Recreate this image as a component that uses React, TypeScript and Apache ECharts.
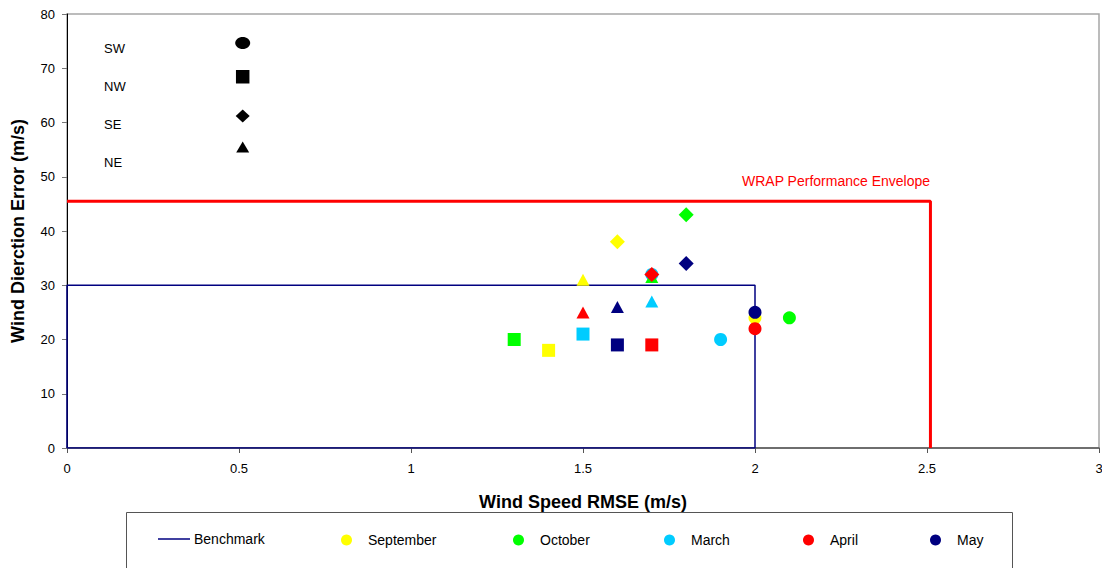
import React, { useEffect, useRef } from "react";
import * as echarts from "echarts";

// ---- data ----
const monthNames = ["September", "October", "March", "April", "May"];
const monthColors = ["#FFFF00", "#00FF00", "#00CCFF", "#FF0000", "#000080"];
// [windSpeedRMSE, windDirError, direction]
const september: [number, number, string][] = [
  [2.0, 24, "SW"], [1.4, 18, "NW"], [1.6, 38, "SE"], [1.5, 31, "NE"],
];
const october: [number, number, string][] = [
  [2.1, 24, "SW"], [1.3, 20, "NW"], [1.8, 43, "SE"], [1.7, 31.5, "NE"],
];
const march: [number, number, string][] = [
  [1.9, 20, "SW"], [1.7, 32, "SW"], [1.5, 21, "NW"], [1.7, 27, "NE"],
];
const april: [number, number, string][] = [
  [2.0, 22, "SW"], [1.7, 19, "NW"], [1.7, 32, "SE"], [1.5, 25, "NE"],
];
const may: [number, number, string][] = [
  [2.0, 25, "SW"], [1.6, 19, "NW"], [1.8, 34, "SE"], [1.6, 26, "NE"],
];
const benchmark = [[0, 0], [0, 30], [2, 30], [2, 0], [0, 0]];
const envelope = [[0, 45.5], [2.51, 45.5], [2.51, 0]];
const directions = ["SW", "NW", "SE", "NE"];
const dirSymbol: Record<string, string> = {
  SW: "circle", NW: "rect", SE: "diamond", NE: "triangle",
};

const FONT = "'Liberation Sans', Arial, sans-serif";

export default function App() {
  const ref = useRef<HTMLDivElement>(null);
  useEffect(() => {
    const chart = echarts.init(ref.current!, null, { renderer: "svg" });
    const monthData = [september, october, march, april, may];
    const order = [0, 2, 1, 3, 4]; // draw order: Sep, Mar, Oct, Apr, May
    const scatterSeries = order.map((i) => ({
      name: monthNames[i],
      type: "scatter",
      itemStyle: { color: monthColors[i], opacity: 1 },
      z: 3,
      data: monthData[i].map((d) => ({
        value: [d[0], d[1]],
        symbol: dirSymbol[d[2]],
        symbolSize: d[2] === "SE" ? [15, 15] : d[2] === "NE" ? [13, 12] : 13,
      })),
    }));

    const legendLefts = [158, 341, 513, 664, 803, 930];
    const legendNames = ["Benchmark", ...monthNames];
    const legends = legendNames.map((n, i) => ({
      data: [i === 0 ? { name: n, icon: "rect" } : n],
      left: legendLefts[i],
      top: i === 0 ? 532 : 533,
      padding: 0,
      itemWidth: i === 0 ? 32 : 11,
      itemHeight: i === 0 ? 1.5 : 12,
      icon: i === 0 ? "rect" : "circle",
      itemStyle: { borderWidth: 0 },
      textStyle: {
        fontFamily: FONT,
        fontSize: 14,
        color: "#000",
        padding: i === 0 ? [0, 0, 0, -1] : [0, 0, 0, 11],
      },
      selectedMode: false,
    }));

    const legendLeftX = 104;
    const symX = 242.7;
    const graphic: any[] = [
      {
        type: "rect",
        shape: { x: 126.5, y: 512.5, width: 886, height: 70 },
        style: { fill: "none", stroke: "#555", lineWidth: 1 },
        z: -1,
      },
      {
        type: "text",
        x: 836,
        y: 181,
        style: {
          text: "WRAP Performance Envelope",
          fill: "#FF0000",
          font: `14px ${FONT}`,
          align: "center",
          verticalAlign: "middle",
        },
      },
    ];
    const textYs = [48, 86, 124, 162];
    directions.forEach((d, i) => {
      graphic.push({
        type: "text",
        x: legendLeftX,
        y: textYs[i],
        style: {
          text: d,
          fill: "#000",
          font: `13px ${FONT}`,
          verticalAlign: "middle",
        },
      });
    });
    graphic.push(
      { type: "ellipse", shape: { cx: symX, cy: 43, rx: 7.5, ry: 6 }, style: { fill: "#000" } },
      { type: "rect", shape: { x: symX - 6.75, y: 70, width: 13.5, height: 13.5 }, style: { fill: "#000" } },
      {
        type: "polygon",
        shape: { points: [[symX, 109.5], [symX + 7, 116], [symX, 122.5], [symX - 7, 116]] },
        style: { fill: "#000" },
      },
      {
        type: "polygon",
        shape: { points: [[symX, 141.5], [symX + 6.5, 152.5], [symX - 6.5, 152.5]] },
        style: { fill: "#000" },
      }
    );

    chart.setOption({
      animation: false,
      backgroundColor: "#fff",
      grid: {
        left: 67, right: 3, top: 14, bottom: 120,
        outerBoundsMode: "none",
        containLabel: false,
        show: true, borderColor: "#a6a6a6", borderWidth: 1.5,
      },
      legend: legends,
      graphic,
      xAxis: {
        type: "value",
        min: 0, max: 3, interval: 0.5,
        name: "Wind Speed RMSE (m/s)",
        nameLocation: "middle",
        nameGap: 45,
        nameTextStyle: { fontFamily: FONT, fontSize: 18, fontWeight: "bold", color: "#000" },
        axisLine: { show: true, onZero: false, lineStyle: { color: "#555", width: 1.5 } },
        axisTick: { show: true, inside: false, length: 5, lineStyle: { color: "#555" } },
        axisLabel: { fontFamily: FONT, fontSize: 13, color: "#000", margin: 14 },
        splitLine: { show: false },
      },
      yAxis: {
        type: "value",
        min: 0, max: 80, interval: 10,
        name: "Wind Dierction Error (m/s)",
        nameLocation: "middle",
        nameGap: 40,
        nameTextStyle: { fontFamily: FONT, fontSize: 18, fontWeight: "bold", color: "#000" },
        axisLine: { show: true, lineStyle: { color: "#000", width: 1 } },
        axisTick: { show: true, inside: false, length: 5, lineStyle: { color: "#777" } },
        axisLabel: { fontFamily: FONT, fontSize: 13, color: "#000", margin: 12 },
        splitLine: { show: false },
      },
      series: [
        {
          name: "Benchmark",
          type: "line",
          data: benchmark,
          symbol: "none",
          lineStyle: { color: "#000080", width: 1.5 },
          itemStyle: { color: "#000080" },
          z: 2,
        },
        {
          name: "WRAP Performance Envelope",
          type: "line",
          data: envelope,
          symbol: "none",
          lineStyle: { color: "#FF0000", width: 3 },
          itemStyle: { color: "#FF0000" },
          z: 2,
        },
        ...scatterSeries,
      ],
    });
    return () => chart.dispose();
  }, []);
  return <div ref={ref} style={{ width: 1102, height: 568, position: "absolute", left: 0, top: 0 }} />;
}
